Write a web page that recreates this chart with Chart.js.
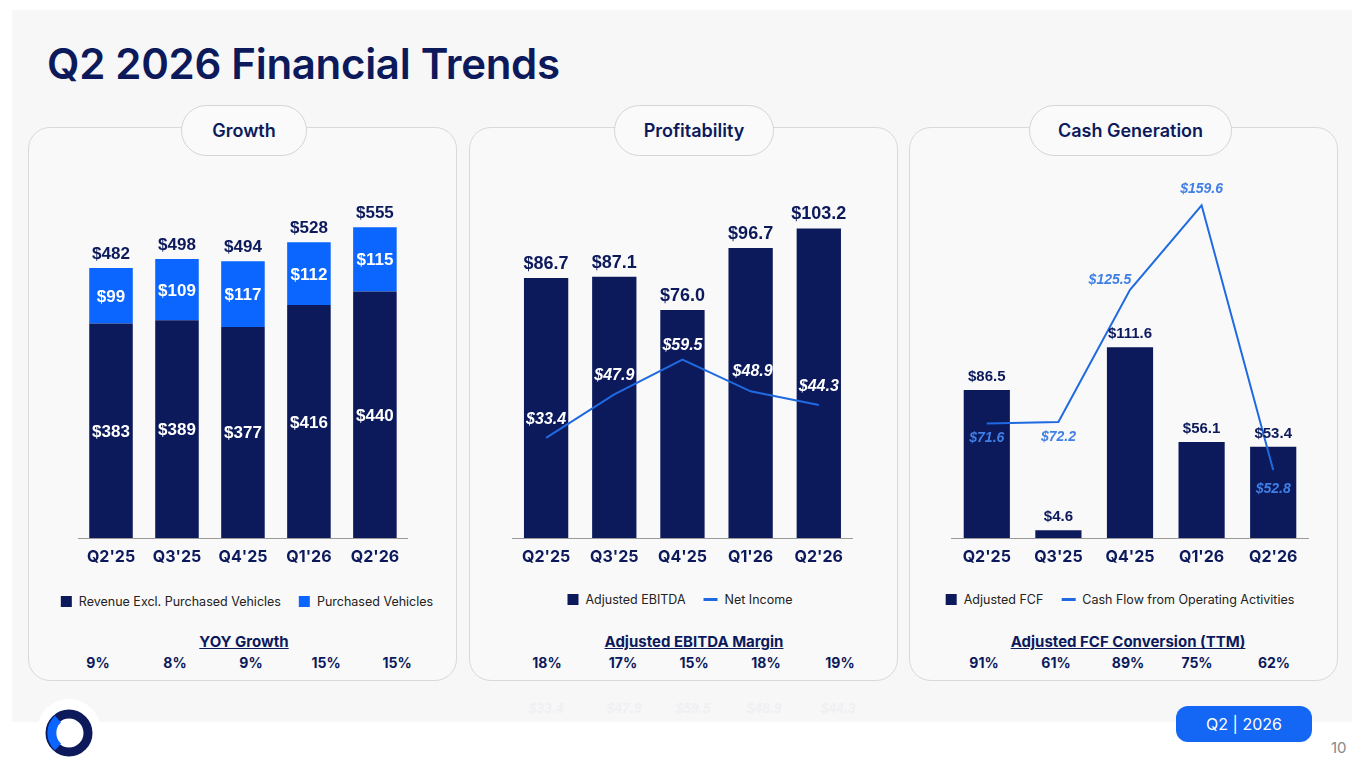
<!DOCTYPE html>
<html><head><meta charset="utf-8">
<script src="https://cdn.jsdelivr.net/npm/chart.js@4"></script>
<style>
body{margin:0;width:1365px;height:768px;background:#fff;position:relative;overflow:hidden;font-family:"Liberation Sans",Arial,sans-serif}
.bg{position:absolute;left:12px;top:10px;width:1340px;height:712px;background:#f7f7f7}
h1{position:absolute;left:47px;top:38px;margin:0;font:600 42px Inter,sans-serif;color:#0c1a5c;letter-spacing:-0.3px}
.panel{position:absolute;top:127px;width:429px;height:554px;border:1px solid #d9d9d9;border-radius:22px;background:#f9f9f9;box-sizing:border-box}
.pill{position:absolute;top:105px;height:51px;border:1px solid #d5d5d5;border-radius:26px;background:#fafafa;font:600 18px Inter,sans-serif;color:#0c1a5c;display:flex;align-items:center;justify-content:center;box-sizing:border-box}
.cv{position:absolute;top:180px;height:400px}
.legend{position:absolute;top:594px;font:12.5px Inter,sans-serif;color:#222;display:flex;gap:18px;transform:translateX(-50%);white-space:nowrap}
.legend span{display:flex;align-items:center;gap:7px}
.sq{width:11px;height:11px;display:inline-block}
.ln{width:14px;height:3px;display:inline-block;background:#1f6ae0}
.sub{position:absolute;top:632px;font:700 15px Inter,sans-serif;color:#0c1a5c;text-decoration:underline;transform:translateX(-50%);white-space:nowrap}
.pct{position:absolute;top:654px;font:700 14px Inter,sans-serif;color:#0c1a5c;transform:translateX(-50%)}
.ghost{position:absolute;top:700px;font:italic 700 14px "Liberation Sans",sans-serif;color:#f0f0f3;transform:translateX(-50%)}
.badge{position:absolute;left:1176px;top:706px;width:136px;height:36px;border-radius:12px;background:#1466f5;color:#fff;font:16px Inter,sans-serif;display:flex;align-items:center;justify-content:center}
.pg{position:absolute;left:1331px;top:738px;font:15px Inter,sans-serif;color:#888}
</style></head><body>
<div class="bg"></div>
<h1>Q2 2026 Financial Trends</h1>
<div class="panel" style="left:28px"></div>
<div class="panel" style="left:469px"></div>
<div class="panel" style="left:909px"></div>
<div class="pill" style="left:181px;width:126px">Growth</div>
<div class="pill" style="left:614px;width:160px">Profitability</div>
<div class="pill" style="left:1029px;width:203px">Cash Generation</div>
<canvas id="c1" class="cv" style="left:77px;width:332px"></canvas>
<canvas id="c2" class="cv" style="left:512px;width:341px"></canvas>
<canvas id="c3" class="cv" style="left:951px;width:358px"></canvas>
<div class="legend" style="left:247px"><span><i class="sq" style="background:#0c1a5c"></i>Revenue Excl. Purchased Vehicles</span><span><i class="sq" style="background:#0a66ff"></i>Purchased Vehicles</span></div>
<div class="legend" style="left:680px;top:592px"><span><i class="sq" style="background:#0c1a5c"></i>Adjusted EBITDA</span><span><i class="ln"></i>Net Income</span></div>
<div class="legend" style="left:1120px;top:592px"><span><i class="sq" style="background:#0c1a5c"></i>Adjusted FCF</span><span><i class="ln"></i>Cash Flow from Operating Activities</span></div>
<div class="sub" style="left:244px">YOY Growth</div>
<div class="sub" style="left:694px">Adjusted EBITDA Margin</div>
<div class="sub" style="left:1128px">Adjusted FCF Conversion (TTM)</div>
<div id="bottom"></div>
<svg style="position:absolute;left:36px;top:698px" width="66" height="66" viewBox="0 0 66 66">
<circle cx="33" cy="33" r="32" fill="#fff"/>
<circle cx="33" cy="35" r="19" fill="none" stroke="#0c1a5c" stroke-width="9"/>
<path d="M22 21 A19 19 0 0 0 22 49" fill="none" stroke="#0a66ff" stroke-width="9"/>
</svg>
<div class="badge">Q2 | 2026</div>
<div class="pg">10</div>
<script>
const quarters = ["Q2'25", "Q3'25", "Q4'25", "Q1'26", "Q2'26"];
const revenueExcl = [383, 389, 377, 416, 440];
const purchasedVehicles = [99, 109, 117, 112, 115];
const yoyGrowth = ['9%', '8%', '9%', '15%', '15%'];
const adjEbitda = [86.7, 87.1, 76.0, 96.7, 103.2];
const netIncome = [33.4, 47.9, 59.5, 48.9, 44.3];
const ebitdaMargin = ['18%', '17%', '15%', '18%', '19%'];
const adjFcf = [86.5, 4.6, 111.6, 56.1, 53.4];
const cashFlowOps = [71.6, 72.2, 125.5, 159.6, 52.8];
const fcfConversion = ['91%', '61%', '89%', '75%', '62%'];

const NAVY = '#0c1a5c', BRIGHT = '#0a66ff', LINE = '#1f6ae0';

// bottom rows of percentages
const bottom = document.getElementById('bottom');
function row(vals, xs, cls) {
    vals.forEach((v, i) => {
        const d = document.createElement('div');
        d.className = cls; d.style.left = xs[i] + 'px'; d.textContent = v;
        bottom.appendChild(d);
    });
}
row(yoyGrowth, [98, 175, 251, 326, 397], 'pct');
row(ebitdaMargin, [547, 623, 694, 766, 840], 'pct');
row(fcfConversion, [984, 1056, 1128, 1197, 1274], 'pct');
row(netIncome.map(v => '$' + v.toFixed(1)), [546, 624, 693, 764, 838], 'ghost');

// draws value labels
const labels = {
    id: 'labels',
    afterDatasetsDraw(chart, args, opts) {
        const ctx = chart.ctx;
        ctx.save();
        ctx.textAlign = 'center';
        opts.items.forEach(it => {
            const meta = chart.getDatasetMeta(it.ds);
            meta.data.forEach((el, i) => {
                const v = chart.data.datasets[it.ds].data[i];
                const txt = it.fmt(v, i);
                ctx.font = (it.italic ? 'italic ' : '') + 'bold ' + it.size + 'px "Liberation Sans", Arial';
                ctx.fillStyle = it.color;
                let x = el.x, y;
                if (it.pos === 'mid') { y = (el.y + el.base) / 2 + 6; }
                else if (it.pos === 'top') { y = (it.stackTop ? chart.getDatasetMeta(it.stackTop).data[i].y : el.y) - 9; }
                else { const o = it.off[i]; x += o[0]; y = el.y + o[1]; }
                ctx.fillText(txt, x, y);
            });
        });
        ctx.restore();
    }
};

function base(ymax, extra) {
    const o = {
        responsive: false, animation: false,
        layout: { padding: 0 },
        plugins: { legend: { display: false }, tooltip: { enabled: false } },
        scales: {
            x: { stacked: true, grid: { display: false, drawTicks: false }, border: { color: '#9a9a9a' },
                 ticks: { color: NAVY, font: { family: 'Inter', size: 16, weight: 'bold' }, padding: 10 },
                 afterFit: a => { a.height = 42; } },
            y: { display: false, min: 0, max: ymax, stacked: true }
        }
    };
    if (extra) Object.assign(o.scales, extra);
    return o;
}

function mk(id, w) {
    const c = document.getElementById(id);
    c.width = w; c.height = 400;
    return c;
}

new Chart(mk('c1', 332), {
    type: 'bar',
    data: { labels: quarters, datasets: [
        { data: revenueExcl, backgroundColor: NAVY, barPercentage: 0.66, categoryPercentage: 1 },
        { data: purchasedVehicles, backgroundColor: BRIGHT, barPercentage: 0.66, categoryPercentage: 1 }
    ] },
    options: Object.assign(base(358 / 0.56), { plugins: { legend: { display: false }, tooltip: { enabled: false },
        labels: { items: [
            { ds: 0, pos: 'mid', color: '#fff', size: 17, fmt: v => '$' + v },
            { ds: 1, pos: 'mid', color: '#fff', size: 17, fmt: v => '$' + v },
            { ds: 0, pos: 'top', stackTop: 1, color: NAVY, size: 17, fmt: (v, i) => '$' + (v + purchasedVehicles[i]) }
        ] } } }),
    plugins: [labels]
});

const niOff = [[0, -14], [0, -14], [0, -10], [2, -15], [0, -14]];
new Chart(mk('c2', 341), {
    data: { labels: quarters, datasets: [
        { type: 'bar', data: adjEbitda, backgroundColor: NAVY, barPercentage: 0.65, categoryPercentage: 1, order: 2 },
        { type: 'line', data: netIncome, borderColor: LINE, borderWidth: 2, pointRadius: 0, tension: 0, order: 1 }
    ] },
    options: Object.assign(base(358 / 3.0), { plugins: { legend: { display: false }, tooltip: { enabled: false },
        labels: { items: [
            { ds: 0, pos: 'top', color: NAVY, size: 18, fmt: v => '$' + v.toFixed(1) },
            { ds: 1, pos: 'off', off: niOff, italic: true, color: '#fff', size: 16, fmt: v => '$' + v.toFixed(1) }
        ] } } }),
    plugins: [labels]
});

const cfOff = [[0, 19], [0, 19], [-20, -6], [0, -12], [0, 23]];
new Chart(mk('c3', 358), {
    data: { labels: quarters, datasets: [
        { type: 'bar', data: adjFcf, backgroundColor: NAVY, barPercentage: 0.645, categoryPercentage: 1, order: 2 },
        { type: 'line', data: cashFlowOps, yAxisID: 'y2', borderColor: LINE, borderWidth: 2, pointRadius: 0, tension: 0, order: 1 }
    ] },
    options: Object.assign(base(358 / 1.71, { y2: { display: false, min: 25.4, max: 169.8 } }), {
        plugins: { legend: { display: false }, tooltip: { enabled: false },
        labels: { items: [
            { ds: 0, pos: 'top', color: NAVY, size: 15, fmt: v => '$' + v.toFixed(1) },
            { ds: 1, pos: 'off', off: cfOff, italic: true, color: '#3f7fe6', size: 14, fmt: v => '$' + v.toFixed(1) }
        ] } } }),
    plugins: [labels]
});
</script>
</body></html>
